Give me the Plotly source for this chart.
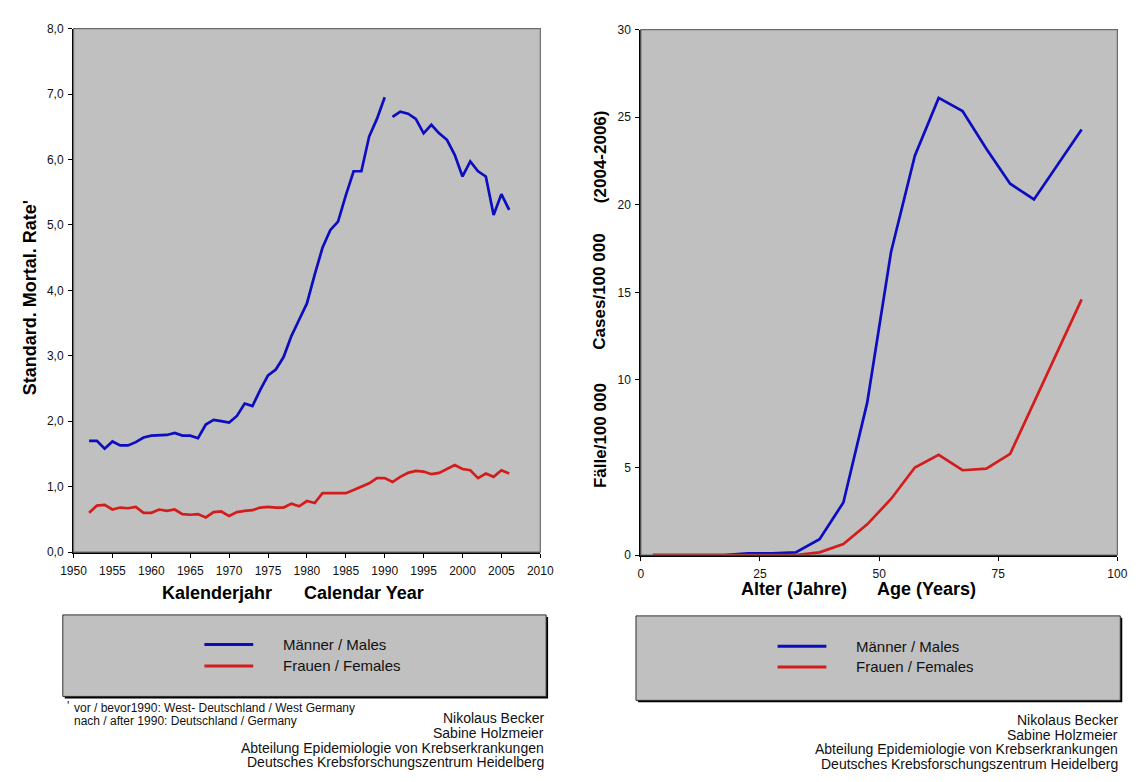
import plotly.graph_objects as go

W, H = 1147, 782

# ---------------- data: left chart (mortality by calendar year) ----------------
years_west = list(range(1952, 1991))
male_west = [1.70, 1.70, 1.58, 1.69, 1.63, 1.63, 1.68, 1.75, 1.78, 1.79,
             1.79, 1.82, 1.78, 1.78, 1.74, 1.95, 2.02, 2.00, 1.98, 2.08,
             2.27, 2.23, 2.48, 2.70, 2.79, 2.98, 3.30, 3.55, 3.80, 4.24,
             4.65, 4.92, 5.05, 5.45, 5.82, 5.82, 6.35, 6.62, 6.95]
years_de = list(range(1991, 2007))
male_de = [6.65, 6.73, 6.70, 6.62, 6.40, 6.53, 6.40, 6.30, 6.07, 5.74,
           5.97, 5.82, 5.74, 5.15, 5.47, 5.23]
years_female = list(range(1952, 2007))
female_rate = [0.60, 0.71, 0.72, 0.65, 0.68, 0.67, 0.69, 0.60, 0.60, 0.65,
               0.63, 0.65, 0.58, 0.57, 0.58, 0.53, 0.61, 0.62, 0.55, 0.61,
               0.63, 0.64, 0.68, 0.69, 0.68, 0.68, 0.74, 0.70, 0.78, 0.75,
               0.90, 0.90, 0.90, 0.90, 0.95, 1.00, 1.05, 1.13, 1.13, 1.07,
               1.15, 1.21, 1.24, 1.23, 1.19, 1.21, 1.27, 1.33, 1.27, 1.25,
               1.13, 1.20, 1.15, 1.25, 1.20]

# ---------------- data: right chart (cases by age, 2004-2006) ----------------
age_mid = [2.5, 7.5, 12.5, 17.5, 22.5, 27.5, 32.5, 37.5, 42.5, 47.5,
           52.5, 57.5, 62.5, 67.5, 72.5, 77.5, 82.5, 92.5]
male_cases = [0, 0, 0, 0, 0.1, 0.1, 0.15, 0.9, 3.0, 8.7,
              17.3, 22.8, 26.1, 25.35, 23.2, 21.2, 20.3, 24.3]
female_cases = [0, 0, 0, 0, 0, 0, 0, 0.15, 0.62, 1.75,
                3.2, 5.0, 5.72, 4.84, 4.93, 5.78, 8.7, 14.6]

left_xticks = list(range(1950, 2011, 5))
left_yticks = [0, 1, 2, 3, 4, 5, 6, 7, 8]
right_xticks = [0, 25, 50, 75, 100]
right_yticks = [0, 5, 10, 15, 20, 25, 30]

legend_labels = ["Männer / Males", "Frauen / Females"]
footnote_lines = ["vor / bevor1990: West- Deutschland / West Germany",
                  "nach / after 1990: Deutschland / Germany"]
author_lines = ["Nikolaus Becker", "Sabine Holzmeier",
                "Abteilung Epidemiologie von Krebserkrankungen",
                "Deutsches Krebsforschungszentrum Heidelberg"]

BLUE = "#0c0cc0"
RED = "#d41c1c"
FONT = "Liberation Sans, Arial, sans-serif"


def px(x):
    return x / W


def py(y):
    return 1 - y / H


fig = go.Figure()
line_w = 2.7
fig.add_trace(go.Scatter(x=years_west, y=male_west, mode="lines",
                         line=dict(color=BLUE, width=line_w), xaxis="x", yaxis="y"))
fig.add_trace(go.Scatter(x=years_de, y=male_de, mode="lines",
                         line=dict(color=BLUE, width=line_w), xaxis="x", yaxis="y"))
fig.add_trace(go.Scatter(x=years_female, y=female_rate, mode="lines",
                         line=dict(color=RED, width=line_w), xaxis="x", yaxis="y"))
fig.add_trace(go.Scatter(x=age_mid, y=male_cases, mode="lines",
                         line=dict(color=BLUE, width=line_w), xaxis="x2", yaxis="y2"))
fig.add_trace(go.Scatter(x=age_mid, y=female_cases, mode="lines",
                         line=dict(color=RED, width=line_w), xaxis="x2", yaxis="y2"))

# plot-area geometry (pixels)
L = dict(x0=62, x1=540, y0=22, y1=555)
R = dict(x0=643, x1=1131, y0=23, y1=558)

tickfont = dict(family=FONT, size=12, color="#111111")
axis_common = dict(showgrid=False, zeroline=False, showline=True, linecolor="#000000",
                   linewidth=1.5, ticks="outside", ticklen=4, tickcolor="#000000",
                   tickwidth=1, tickfont=tickfont, fixedrange=True)

fig.update_layout(
    width=W, height=H,
    margin=dict(l=0, r=0, t=0, b=0),
    paper_bgcolor="#ffffff",
    plot_bgcolor="#c0c0c0",
    showlegend=False,
    separators=",.",
    xaxis=dict(domain=[px(L["x0"]), px(L["x1"])], range=[1950, 2010],
               tickvals=left_xticks, tickformat="d", anchor="y",
               ticklabelstandoff=3, **axis_common),
    yaxis=dict(domain=[py(L["y1"]), py(L["y0"])], range=[0, 8],
               tickvals=left_yticks, tickformat=".1f", anchor="x",
               ticklabelstandoff=2, **axis_common),
    xaxis2=dict(domain=[px(R["x0"]), px(R["x1"])], range=[0, 100],
                tickvals=right_xticks, tickformat="d", anchor="y2",
                ticklabelstandoff=3, **axis_common),
    yaxis2=dict(domain=[py(R["y1"]), py(R["y0"])], range=[0, 30],
                tickvals=right_yticks, tickformat="d", anchor="x2",
                ticklabelstandoff=2, **axis_common),
)

shapes = []
# plot area borders (top/right)
for g in (L, R):
    shapes.append(dict(type="rect", xref="paper", yref="paper",
                       x0=px(g["x0"]), x1=px(g["x1"]), y0=py(g["y1"]), y1=py(g["y0"]),
                       line=dict(color="#6a6a6a", width=1.2), layer="above"))

# legend boxes with shadow
boxes = [dict(x0=51, x1=546, y0=619, y1=702, lx0=196, lx1=246, tx=274, ty=[649, 671]),
         dict(x0=638, x1=1134, y0=620, y1=706, lx0=783, lx1=833, tx=861, ty=[651, 672])]
annotations = []
for b in boxes:
    shapes.append(dict(type="rect", xref="paper", yref="paper",
                       x0=px(b["x0"] + 2), x1=px(b["x1"] + 2), y0=py(b["y1"] + 2), y1=py(b["y0"] + 2),
                       fillcolor="#000000", line=dict(width=0), layer="above"))
    shapes.append(dict(type="rect", xref="paper", yref="paper",
                       x0=px(b["x0"]), x1=px(b["x1"]), y0=py(b["y1"]), y1=py(b["y0"]),
                       fillcolor="#c0c0c0", line=dict(color="#303030", width=1), layer="above"))
    for col, yy, lab in zip([BLUE, RED], b["ty"], legend_labels):
        shapes.append(dict(type="line", xref="paper", yref="paper",
                           x0=px(b["lx0"]), x1=px(b["lx1"]), y0=py(yy), y1=py(yy),
                           line=dict(color=col, width=3), layer="above"))
        annotations.append(dict(x=px(b["tx"]), y=py(yy), xref="paper", yref="paper",
                                text=lab, showarrow=False, xanchor="left", yanchor="middle",
                                font=dict(family=FONT, size=15, color="#111111")))

bold = dict(family=FONT, size=18, color="#000000")
# axis titles
annotations += [
    dict(x=px(209), y=py(597), text="<b>Kalenderjahr</b>", font=bold),
    dict(x=px(359), y=py(597), text="<b>Calendar Year</b>", font=bold),
    dict(x=px(800), y=py(593), text="<b>Alter (Jahre)</b>", font=bold),
    dict(x=px(936), y=py(593), text="<b>Age (Years)</b>", font=bold),
    dict(x=px(17), y=py(296), text="<b>Standard. Mortal. Rate'</b>", textangle=-90, font=bold),
    dict(x=px(601), y=py(436), text="<b>Fälle/100 000</b>", textangle=-90,
         font=dict(family=FONT, size=17, color="#000000")),
    dict(x=px(601), y=py(290), text="<b>Cases/100 000</b>", textangle=-90,
         font=dict(family=FONT, size=17, color="#000000")),
    dict(x=px(601), y=py(152), text="<b>(2004-2006)</b>", textangle=-90,
         font=dict(family=FONT, size=17, color="#000000")),
]
for a in annotations[-8:]:
    a.update(xref="paper", yref="paper", showarrow=False, xanchor="center", yanchor="middle")

small = dict(family=FONT, size=12, color="#111111")
annotations.append(dict(x=px(53), y=py(712), xref="paper", yref="paper", text="'",
                        showarrow=False, xanchor="left", yanchor="middle", font=small))
for i, t in enumerate(footnote_lines):
    annotations.append(dict(x=px(60), y=py(714 + 13 * i), xref="paper", yref="paper", text=t,
                            showarrow=False, xanchor="left", yanchor="middle", font=small))

auth = dict(family=FONT, size=14, color="#111111")
for right_x, y0 in ((546, 724), (1134, 726)):
    for i, t in enumerate(author_lines):
        annotations.append(dict(x=px(right_x), y=py(y0 + 15 * i), xref="paper", yref="paper",
                                text=t, showarrow=False, xanchor="right", yanchor="middle",
                                font=auth))

fig.update_layout(shapes=shapes, annotations=annotations)

fig.write_html("out.html",
               config={"displayModeBar": False, "staticPlot": True},
               post_script="document.body.style.margin='0';document.body.style.overflow='hidden';")
